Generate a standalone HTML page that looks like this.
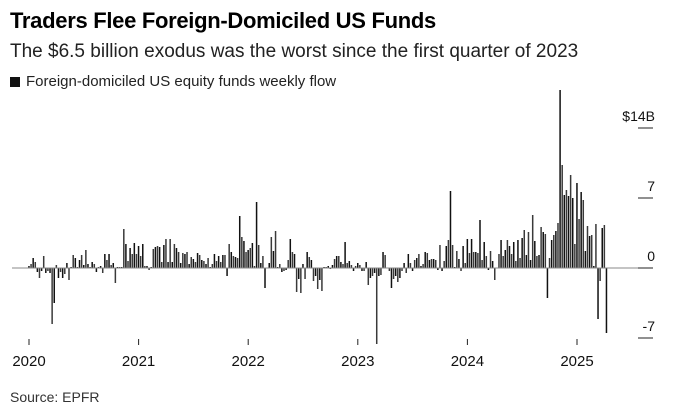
<!DOCTYPE html>
<html><head><meta charset="utf-8"><style>
body{margin:0;background:#fff;font-family:"Liberation Sans",Arial,sans-serif;}
#wrap{position:relative;width:680px;height:420px;overflow:hidden;}
.t{position:absolute;white-space:nowrap;color:#000;}
</style></head><body>
<div id="wrap">
<div class="t" style="left:10px;top:8px;font-size:22px;font-weight:bold;letter-spacing:-0.3px">Traders Flee Foreign-Domiciled US Funds</div>
<div class="t" style="left:10px;top:41px;font-size:19px;color:#222">The $6.5 billion exodus was the worst since the first quarter of 2023</div>
<div class="t" style="left:10px;top:73px;font-size:15px;color:#222"><span style="display:inline-block;width:10px;height:10px;background:#111;margin-right:6px;vertical-align:-1px"></span>Foreign-domiciled US equity funds weekly flow</div>
<div class="t" style="left:10px;top:389px;font-size:14px;color:#333">Source: EPFR</div>
<svg id="chart" width="680" height="420" style="position:absolute;left:0;top:0"></svg>
</div>
<script>
const y2020=[0.2,0.4,1.0,0.6,-0.4,-1.0,-0.3,1.2,-0.5,-0.3,-0.5,-5.6,-3.5,0.3,-1.0,-0.4,-1.0,-0.6,0.5,-1.2,0.1,1.3,1.0,0.1,0.8,1.3,0.3,1.8,0.4,0.1,0.6,0.4,-0.4,0.1,0.2,-0.5,1.4,0.8,1.4,0.3,0.5,-1.5,0.1,0.1,0.1,3.9,2.4,0.7,2.0,1.4,2.5,1.4];
const y2021=[2.2,1.2,2.4,0.2,0.2,-0.2,0.1,1.9,2.1,2.2,2.1,0.6,2.3,2.9,0.6,2.9,0.6,2.4,2.0,1.6,0.5,1.5,1.4,1.6,0.4,1.1,0.9,0.6,1.5,1.3,0.8,0.7,0.4,1.0,0.1,0.4,1.4,0.7,1.2,0.6,1.3,1.3,-0.8,2.4,1.6,1.2,1.1,1.0,5.2,3.1,2.7,1.6];
const y2022=[1.8,2.0,2.5,0.2,6.6,2.3,0.5,1.2,-2.0,0,0.5,3.1,1.7,3.7,0.1,0.4,-0.4,-0.3,-0.2,0.8,2.9,1.6,1.4,-2.4,-1.1,-2.5,0.4,-1.1,1.6,1.1,0.8,-1.3,-0.8,-2.1,-1.2,-2.3,0.1,0.1,0.2,-0.1,0.3,0.9,1.2,1.2,0.6,0.4,2.6,0.5,0.7,0.3,-0.3,0.2];
const y2023=[0.5,0.3,-0.3,-0.3,0.6,-1.7,-1.0,-0.8,-0.5,-7.6,-0.8,-0.7,1.6,1.3,0,-0.3,-2.0,-1.1,-0.8,-1.4,-1.0,-0.3,0.5,-0.5,1.4,0.5,-0.3,0.8,1.0,1.4,0.2,0.4,1.6,1.5,0.8,0.9,0.9,0.8,-0.2,2.3,-0.3,0.7,2.2,2.8,7.7,2.3,0.1,1.7,0.9,-0.3,2.2,0.5];
const y2024=[2.9,1.5,2.9,1.6,1.6,1.5,4.8,0.8,2.6,1.2,-0.2,1.7,0.7,-1.2,0,1.4,2.8,1.2,1.8,2.8,2.2,1.4,2.6,0.7,2.8,1.0,3.0,3.8,1.3,3.6,0.8,5.3,2.7,1.2,1.3,4.1,3.6,3.4,-3.0,1.0,2.8,3.3,3.7,4.5,17.8,10.3,7.3,7.8,7.2,9.3,7.0,2.4];
const y2025=[8.5,4.9,7.6,6.8,1.7,4.2,3.2,3.3,0.2,4.4,-5.1,-1.3,4.0,4.3,-6.5];
const yTickVals=[14,7,0,-7];
const yTickLabels=["$14B","7","0","-7"];
const years=["2020","2021","2022","2023","2024","2025"];

const NS="http://www.w3.org/2000/svg";
const svg=document.getElementById('chart');
const zeroY=268, pxPerB=10, x0=29, pxPerWeek=109.6/52;
const yS=v=>zeroY-v*pxPerB;
const xS=i=>x0+i*pxPerWeek;
function mk(tag,attrs){const e=document.createElementNS(NS,tag);for(const k in attrs)e.setAttribute(k,attrs[k]);svg.appendChild(e);return e;}
const values=[].concat(y2020,y2021,y2022,y2023,y2024,y2025);
values.forEach((v,i)=>{
  const top=Math.min(yS(v),zeroY),h=Math.abs(yS(v)-zeroY);
  const r=mk('rect',{x:(xS(i)-0.8).toFixed(2),y:top.toFixed(2),width:1.5,height:Math.max(h,0.3).toFixed(2),fill:i%2?'#3a3a3a':'#111'});
  
  
});
const zl=mk('line',{x1:12,x2:653,y1:zeroY,y2:zeroY,stroke:'#888','stroke-width':1});


yTickVals.forEach((v,i)=>{
  const l=mk('line',{x1:638,x2:653,y1:yS(v),y2:yS(v),stroke:'#222','stroke-width':1});
  
  
  const t=mk('text',{x:655,y:yS(v)-7,'text-anchor':'end','font-size':14,fill:'#111','font-family':'Liberation Sans, Arial, sans-serif'});
  t.textContent=yTickLabels[i];
  
  
});
years.forEach((y,i)=>{
  const x=xS(i*52);
  const l=mk('line',{x1:x,x2:x,y1:339,y2:345,stroke:'#222','stroke-width':1});
  
  
  const t=mk('text',{x:x,y:366,'text-anchor':'middle','font-size':15,fill:'#111','font-family':'Liberation Sans, Arial, sans-serif'});
  t.textContent=y;
  
  
});
</script>
</body></html>
